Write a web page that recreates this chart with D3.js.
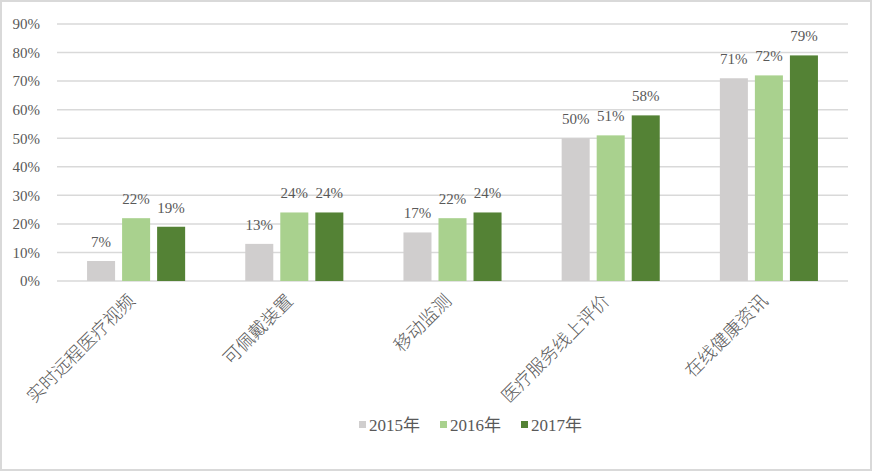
<!DOCTYPE html>
<html>
<head>
<meta charset="utf-8">
<script src="https://cdn.jsdelivr.net/npm/d3@7"></script>
<style>
  body { margin: 0; background: #fff; }
  text { font-family: "Liberation Serif", "Noto Sans CJK SC", serif; fill: #595959; }
</style>
</head>
<body>
<div id="chart"></div>
<script>
// Data
const categories = ['实时远程医疗视频', '可佩戴装置', '移动监测', '医疗服务线上评价', '在线健康资讯'];
const seriesNames = ['2015年', '2016年', '2017年'];
const values2015 = [7, 13, 17, 50, 71];
const values2016 = [22, 24, 22, 51, 72];
const values2017 = [19, 24, 24, 58, 79];
const yTicks = [0, 10, 20, 30, 40, 50, 60, 70, 80, 90];
const colors = ['#d0cece', '#a9d18e', '#548235'];

const series = [values2015, values2016, values2017];

// Chart dimensions
const width = 872;
const height = 471;
const margin = { left: 57, right: 24, top: 24, bottom: 190 };

const svg = d3.select('#chart')
  .append('svg')
  .attr('width', width)
  .attr('height', height);

// Border
svg.append('rect')
  .attr('x', 1)
  .attr('y', 1)
  .attr('width', width - 2)
  .attr('height', height - 2)
  .attr('fill', '#fff')
  .attr('stroke', '#d9d9d9')
  .attr('stroke-width', 2);

// Scales
const x0 = d3.scaleBand()
  .domain(categories)
  .range([margin.left, width - margin.right])
  .paddingInner(0.38)
  .paddingOuter(0.19);

const x1 = d3.scaleBand()
  .domain(seriesNames)
  .range([0, x0.bandwidth()])
  .paddingInner(0.2);

const y = d3.scaleLinear()
  .domain([0, 90])
  .range([height - margin.bottom, margin.top]);

// Gridlines
svg.append('g')
  .selectAll('line')
  .data(yTicks)
  .enter()
  .append('line')
  .attr('x1', margin.left)
  .attr('x2', width - margin.right)
  .attr('y1', d => y(d))
  .attr('y2', d => y(d))
  .attr('stroke', '#d9d9d9')
  .attr('stroke-width', 1.5);

// Y axis labels
const yAxis = svg.append('g')
  .attr('transform', `translate(${margin.left - 14}, 0)`)
  .call(d3.axisLeft(y).tickValues(yTicks).tickSize(0).tickFormat(d => d + '%'));
yAxis.select('.domain').remove();
yAxis.selectAll('text')
  .attr('font-size', 15)
  .attr('font-family', '"Liberation Serif", serif')
  .attr('fill', '#595959');

// Bars
const groups = svg.append('g')
  .selectAll('g')
  .data(categories)
  .enter()
  .append('g')
  .attr('transform', d => `translate(${x0(d)}, 0)`);

groups.selectAll('rect')
  .data((d, i) => series.map((s, k) => ({ name: seriesNames[k], value: s[i], k })))
  .enter()
  .append('rect')
  .attr('x', d => x1(d.name))
  .attr('y', d => y(d.value))
  .attr('width', x1.bandwidth())
  .attr('height', d => y(0) - y(d.value))
  .attr('fill', d => colors[d.k]);

groups.selectAll('.label')
  .data((d, i) => series.map((s, k) => ({ name: seriesNames[k], value: s[i], k })))
  .enter()
  .append('text')
  .attr('class', 'label')
  .attr('x', d => x1(d.name) + x1.bandwidth() / 2)
  .attr('y', d => y(d.value) - 14)
  .attr('text-anchor', 'middle')
  .attr('font-size', 15)
  .text(d => d.value + '%');

// Category labels
svg.append('g')
  .selectAll('text')
  .data(categories)
  .enter()
  .append('text')
  .attr('transform', d => `translate(${x0(d) + x0.bandwidth() / 2}, ${y(0) + 21}) rotate(-45)`)
  .attr('text-anchor', 'end')
  .attr('font-size', 18)
  .attr('font-family', '"Noto Serif CJK SC", "Noto Sans CJK SC", serif')
  .attr('font-weight', 300)
  .text(d => d);

// Legend
const legend = svg.append('g')
  .attr('transform', `translate(359, 425)`);

const items = legend.selectAll('g')
  .data(seriesNames)
  .enter()
  .append('g')
  .attr('transform', (d, i) => `translate(${i * 81}, 0)`);

items.append('rect')
  .attr('x', 0)
  .attr('y', -4)
  .attr('width', 7)
  .attr('height', 7)
  .attr('fill', (d, i) => colors[i]);

items.append('text')
  .attr('x', 10)
  .attr('y', 6)
  .attr('font-size', 17)
  .attr('font-family', '"Liberation Sans", "Noto Sans CJK SC", sans-serif')
  .attr('fill', '#404040')
  .text(d => d);
</script>
</body>
</html>
